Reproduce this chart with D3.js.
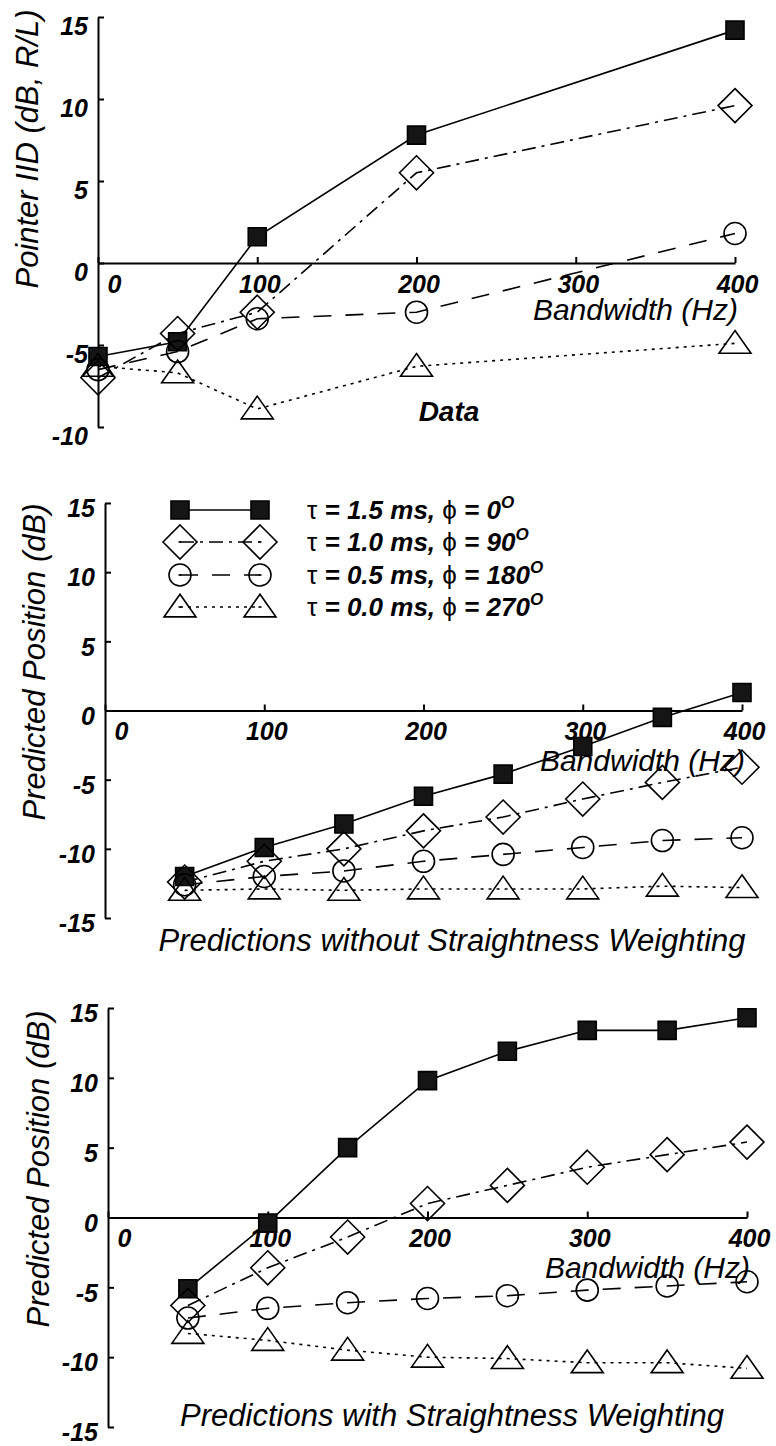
<!DOCTYPE html>
<html>
<head>
<meta charset="utf-8">
<script src="https://cdn.jsdelivr.net/npm/d3@7"></script>
<style>
  body { margin: 0; background: #fff; }
  text { font-family: "Liberation Sans", Arial, sans-serif; font-style: italic; fill: #000; }
</style>
</head>
<body>
<div id="chart"></div>
<script>
// ---- data ----
const bwData = [0, 50, 100, 200, 400];                  // measured bandwidths (Hz)
const bwModel = [50, 100, 150, 200, 250, 300, 350, 400]; // model bandwidths (Hz)
const xTickValues = [0, 100, 200, 300, 400];
const taus = ["1.5", "1.0", "0.5", "0.0"];
const phis = ["0", "90", "180", "270"];

// panel 1: data (pointer IID)
const dataTau15 = [-5.7, -4.8, 1.6, 7.8, 14.2];
const dataTau10 = [-7.0, -4.3, -3.0, 5.5, 9.6];
const dataTau05 = [-6.5, -5.4, -3.4, -3.0, 1.8];
const dataTau00 = [-6.3, -6.7, -8.9, -6.3, -4.9];

// panel 2: predictions without straightness weighting
const noWTau15 = [-12.0, -9.9, -8.2, -6.2, -4.6, -2.6, -0.5, 1.3];
const noWTau10 = [-12.4, -10.9, -10.0, -8.7, -7.7, -6.4, -5.2, -4.1];
const noWTau05 = [-12.6, -12.0, -11.6, -10.9, -10.4, -9.9, -9.4, -9.2];
const noWTau00 = [-13.0, -12.9, -13.0, -12.9, -12.9, -12.9, -12.7, -12.8];

// panel 3: predictions with straightness weighting
const wTau15 = [-5.1, -0.4, 5.0, 9.8, 11.9, 13.4, 13.4, 14.3];
const wTau10 = [-6.3, -3.6, -1.4, 1.0, 2.3, 3.6, 4.5, 5.4];
const wTau05 = [-7.2, -6.5, -6.1, -5.8, -5.6, -5.2, -4.9, -4.6];
const wTau00 = [-8.3, -8.8, -9.5, -10.0, -10.1, -10.4, -10.4, -10.8];

const width = 776, height = 1446;

const svg = d3.select("#chart").append("svg")
  .attr("width", width)
  .attr("height", height);

// marker shapes
const symSquare = { draw(ctx, r) { ctx.rect(-r, -r, 2 * r, 2 * r); } };
const symDiamond = { draw(ctx, r) {
  ctx.moveTo(0, -r); ctx.lineTo(r, 0); ctx.lineTo(0, r); ctx.lineTo(-r, 0); ctx.closePath();
} };
const symCircle = { draw(ctx, r) { ctx.moveTo(r, 0); ctx.arc(0, 0, r, 0, 2 * Math.PI); } };
const symTriangle = { draw(ctx, r) {
  ctx.moveTo(0, -r * 0.8); ctx.lineTo(r, r * 0.62); ctx.lineTo(-r, r * 0.62); ctx.closePath();
} };

const styles = [
  { type: symSquare, size: 9, fill: "#151515", dash: null },
  { type: symDiamond, size: 17, fill: "none", dash: "14,6,3,6" },
  { type: symCircle, size: 11, fill: "none", dash: "18,14" },
  { type: symTriangle, size: 16, fill: "none", dash: "3,5" }
];

function drawMarker(g, st, x, y, dot) {
  g.append("path")
    .attr("transform", `translate(${x},${y})`)
    .attr("d", d3.symbol().type(st.type).size(st.size)())
    .attr("fill", st.fill)
    .attr("stroke", "#000")
    .attr("stroke-width", 1.6);
  if (dot && st.fill === "none") {
    g.append("rect").attr("x", x - 1.5).attr("y", y - 0.8).attr("width", 3).attr("height", 1.6).attr("fill", "#000");
  }
}

const panels = [
  { xr: [98, 735], yr: [427, 17], yDomain: [-10, 15], yTicks: [-10, -5, 0, 5, 10, 15],
    bw: bwData, series: [dataTau15, dataTau10, dataTau05, dataTau00],
    yTitle: "Pointer IID (dB, R/L)", yTitleX: 30, yTitleY: 149, dy: "0.7em", bandBase: 57 },
  { xr: [105, 742], yr: [918, 503], yDomain: [-15, 15], yTicks: [-15, -10, -5, 0, 5, 10, 15],
    bw: bwModel, series: [noWTau15, noWTau10, noWTau05, noWTau00],
    yTitle: "Predicted Position (dB)", yTitleX: 37, yTitleY: 662, dy: "0.55em", bandBase: 60,
    title: "Predictions without Straightness Weighting", titleY: 951, legend: true },
  { xr: [108, 747], yr: [1427, 1008], yDomain: [-15, 15], yTicks: [-15, -10, -5, 0, 5, 10, 15],
    bw: bwModel, series: [wTau15, wTau10, wTau05, wTau00],
    yTitle: "Predicted Position (dB)", yTitleX: 41, yTitleY: 1169, dy: "0.55em", bandBase: 60,
    title: "Predictions with Straightness Weighting", titleY: 1426 }
];

panels.forEach(p => {
  const x = d3.scaleLinear().domain([0, 400]).range(p.xr);
  const y = d3.scaleLinear().domain(p.yDomain).range(p.yr);
  const g = svg.append("g");

  // y axis
  const yAxis = g.append("g")
    .attr("transform", `translate(${p.xr[0]},0)`)
    .call(d3.axisLeft(y).tickValues(p.yTicks).tickSizeInner(-6).tickSizeOuter(0).tickPadding(10));
  yAxis.selectAll("text").attr("dy", p.dy).attr("font-size", 25).attr("font-weight", "bold")
    .attr("font-family", null).text(d => d);

  // x axis along y = 0
  const xAxis = g.append("g")
    .attr("transform", `translate(0,${y(0)})`)
    .call(d3.axisBottom(x).tickValues(xTickValues).tickSizeInner(-6).tickSizeOuter(0).tickPadding(12));
  xAxis.selectAll("text").attr("font-size", 25).attr("font-weight", "bold")
    .attr("font-family", null)
    .attr("dx", d => d === 0 ? 16 : 2);

  svg.selectAll(".domain, .tick line").attr("stroke", "#000").attr("stroke-width", 2);

  g.append("text")
    .attr("x", p.xr[1] + 3).attr("y", y(0) + p.bandBase)
    .attr("text-anchor", "end").attr("font-size", 30)
    .text("Bandwidth (Hz)");

  g.append("text")
    .attr("transform", `translate(${p.yTitleX},${p.yTitleY}) rotate(-90)`)
    .attr("text-anchor", "middle").attr("dominant-baseline", "middle")
    .attr("font-size", 31)
    .text(p.yTitle);

  if (p.title) {
    g.append("text")
      .attr("x", 452).attr("y", p.titleY)
      .attr("text-anchor", "middle").attr("font-size", 31)
      .text(p.title);
  }

  // series lines then markers
  p.series.forEach((vals, i) => {
    const st = styles[i];
    const pts = vals.map((v, j) => [x(p.bw[j]), y(v)]);
    g.append("path")
      .attr("d", d3.line()(pts))
      .attr("fill", "none")
      .attr("stroke", "#000")
      .attr("stroke-width", 1.6)
      .attr("stroke-dasharray", st.dash);
  });
  p.series.forEach((vals, i) => {
    vals.forEach((v, j) => drawMarker(g, styles[i], x(p.bw[j]), y(v), false));
  });

  if (p.legend) {
    const rows = [510, 542, 575, 607];
    taus.forEach((t, i) => {
      const st = styles[i];
      g.append("line")
        .attr("x1", 180).attr("x2", 260).attr("y1", rows[i]).attr("y2", rows[i])
        .attr("stroke", "#000").attr("stroke-width", 1.6)
        .attr("stroke-dasharray", st.dash);
      drawMarker(g, st, 180, rows[i], true);
      drawMarker(g, st, 260, rows[i], true);
      const txt = g.append("text")
        .attr("x", 307).attr("y", rows[i] + 9)
        .attr("font-size", 26).attr("font-weight", "bold");
      txt.append("tspan").attr("font-style", "normal").attr("font-weight", "normal").text("τ");
      txt.append("tspan").text(` = ${t} ms, `);
      txt.append("tspan").attr("font-style", "normal").attr("font-weight", "normal").text("ϕ");
      txt.append("tspan").text(` = ${phis[i]}`);
      txt.append("tspan").attr("dy", -11).attr("font-size", 17).text("O");
    });
  }
});

// label under the measured-data panel
svg.append("text")
  .attr("x", 449).attr("y", 421)
  .attr("text-anchor", "middle").attr("font-size", 28).attr("font-weight", "bold")
  .text("Data");
</script>
</body>
</html>
